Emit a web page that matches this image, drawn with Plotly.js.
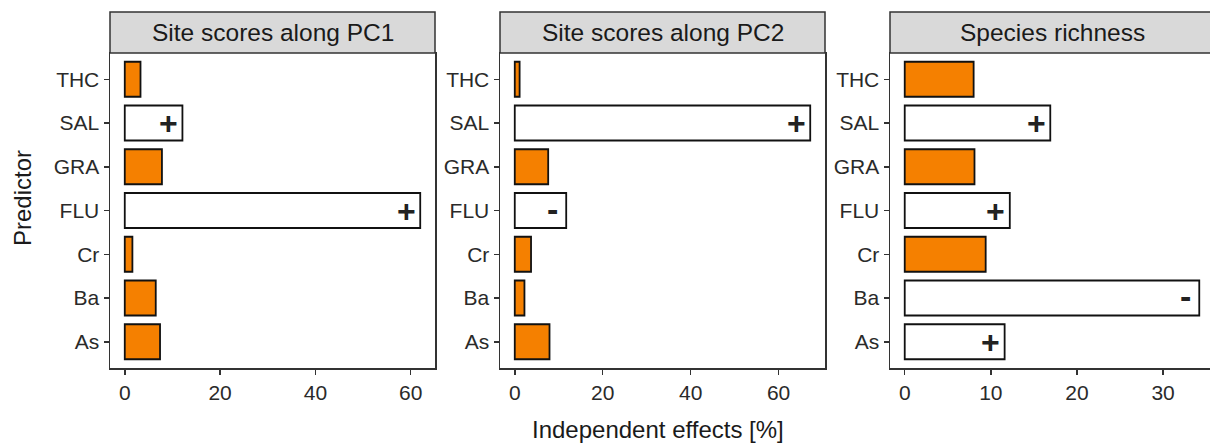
<!DOCTYPE html>
<html>
<head>
<meta charset="utf-8">
<script src="https://cdn.plot.ly/plotly-3.0.1.min.js"></script>
<style>
html,body{margin:0;padding:0;background:#fff;overflow:hidden;}
#chart{width:1216px;height:443px;}
</style>
</head>
<body>
<div id="chart"></div>
<script>
// ---- data ----
const predictors = ['As', 'Ba', 'Cr', 'FLU', 'GRA', 'SAL', 'THC'];
const pc1Values = [7.4, 6.5, 1.6, 62.0, 7.8, 12.1, 3.3];
const pc1Signs  = ['', '', '', '+', '', '+', ''];
const pc2Values = [7.9, 2.2, 3.7, 11.7, 7.6, 67.2, 1.1];
const pc2Signs  = ['', '', '', '-', '', '+', ''];
const richValues = [11.6, 34.2, 9.4, 12.2, 8.1, 16.9, 8.0];
const richSigns  = ['+', '-', '', '+', '', '+', ''];
const panelTitles = ['Site scores along PC1', 'Site scores along PC2', 'Species richness'];
const xTickStep = [20, 20, 10];

const panels = [
  {values: pc1Values, signs: pc1Signs},
  {values: pc2Values, signs: pc2Signs},
  {values: richValues, signs: richSigns}
];

// ---- style ----
const ORANGE = '#F58000';
const FRAME = '#333333';
const TICKTXT = '#2a2a2a';
const W = 1216, H = 443;
const margin = {l: 110, r: 0, t: 53, b: 75};
const plotW = W - margin.l - margin.r;
const panelPx = [[0, 325], [390, 715], [780, 1104]];
const domains = panelPx.map(p => [p[0] / plotW, p[1] / plotW]);
const plotH = H - margin.t - margin.b;
const stripTop = 1 + 41 / plotH;

const traces = [];
const annotations = [];
const shapes = [];
const layout = {
  width: W, height: H,
  margin: margin,
  paper_bgcolor: '#fff',
  plot_bgcolor: '#fff',
  showlegend: false,
  font: {family: 'Liberation Sans, Arial, sans-serif', color: '#1a1a1a'},
  bargap: 0.2
};

panels.forEach((p, i) => {
  const n = i === 0 ? '' : String(i + 1);
  const xa = 'x' + n, ya = 'y' + n;
  traces.push({
    type: 'bar', orientation: 'h',
    x: p.values, y: predictors,
    xaxis: xa, yaxis: ya,
    width: 0.8,
    marker: {
      color: p.signs.map(s => s ? '#ffffff' : ORANGE),
      line: {color: '#111', width: 1.8}
    },
    hoverinfo: 'x+y'
  });
  const maxV = Math.max(...p.values);
  layout['xaxis' + n] = {
    domain: domains[i], anchor: ya,
    range: [-0.05 * maxV, 1.05 * maxV],
    dtick: xTickStep[i], tick0: 0,
    showgrid: false, zeroline: false,
    showline: true, mirror: true, linecolor: FRAME, linewidth: 1.5,
    ticks: 'outside', ticklen: 5, tickwidth: 1.5, tickcolor: FRAME,
    tickfont: {size: 21, color: TICKTXT},
    fixedrange: true
  };
  layout['yaxis' + n] = {
    domain: [0, 1], anchor: xa,
    type: 'category',
    categoryorder: 'array', categoryarray: predictors,
    range: [-0.6, predictors.length - 0.4],
    showgrid: false, zeroline: false,
    showline: true, mirror: true, linecolor: FRAME, linewidth: 1.5,
    ticks: 'outside', ticklen: 5, tickwidth: 1.5, tickcolor: FRAME,
    tickfont: {size: 21, color: TICKTXT},
    fixedrange: true
  };
  // strip
  shapes.push({
    type: 'rect', xref: 'paper', yref: 'paper',
    x0: domains[i][0], x1: domains[i][1], y0: 1, y1: stripTop,
    fillcolor: '#D9D9D9', line: {color: FRAME, width: 1.5}, layer: 'above'
  });
  annotations.push({
    xref: 'paper', yref: 'paper',
    x: (domains[i][0] + domains[i][1]) / 2, y: (1 + stripTop) / 2,
    xanchor: 'center', yanchor: 'middle',
    text: panelTitles[i], showarrow: false,
    font: {size: 24.5, color: '#1a1a1a'}
  });
  // signs
  p.signs.forEach((s, k) => {
    if (!s) return;
    annotations.push({
      xref: xa, yref: ya,
      x: p.values[k], y: predictors[k],
      xanchor: 'center', yanchor: 'middle',
      xshift: -14, yshift: s === '-' ? 2 : 0,
      text: '<b>' + s + '</b>', showarrow: false,
      font: {size: s === '-' ? 34 : 32, color: '#222'}
    });
  });
});

// axis titles
annotations.push({
  xref: 'paper', yref: 'paper',
  x: (658 - margin.l) / plotW, y: -(429 - (H - margin.b)) / plotH,
  xanchor: 'center', yanchor: 'middle',
  text: 'Independent effects [%]', showarrow: false,
  font: {size: 24, color: '#1a1a1a'}
});
annotations.push({
  xref: 'paper', yref: 'paper',
  x: (22 - margin.l) / plotW, y: ((H - margin.b) - 198) / plotH,
  xanchor: 'center', yanchor: 'middle',
  text: 'Predictor', showarrow: false, textangle: -90,
  font: {size: 24, color: '#1a1a1a'}
});

layout.annotations = annotations;
layout.shapes = shapes;

Plotly.newPlot('chart', traces, layout, {displayModeBar: false, staticPlot: true});
</script>
</body>
</html>
